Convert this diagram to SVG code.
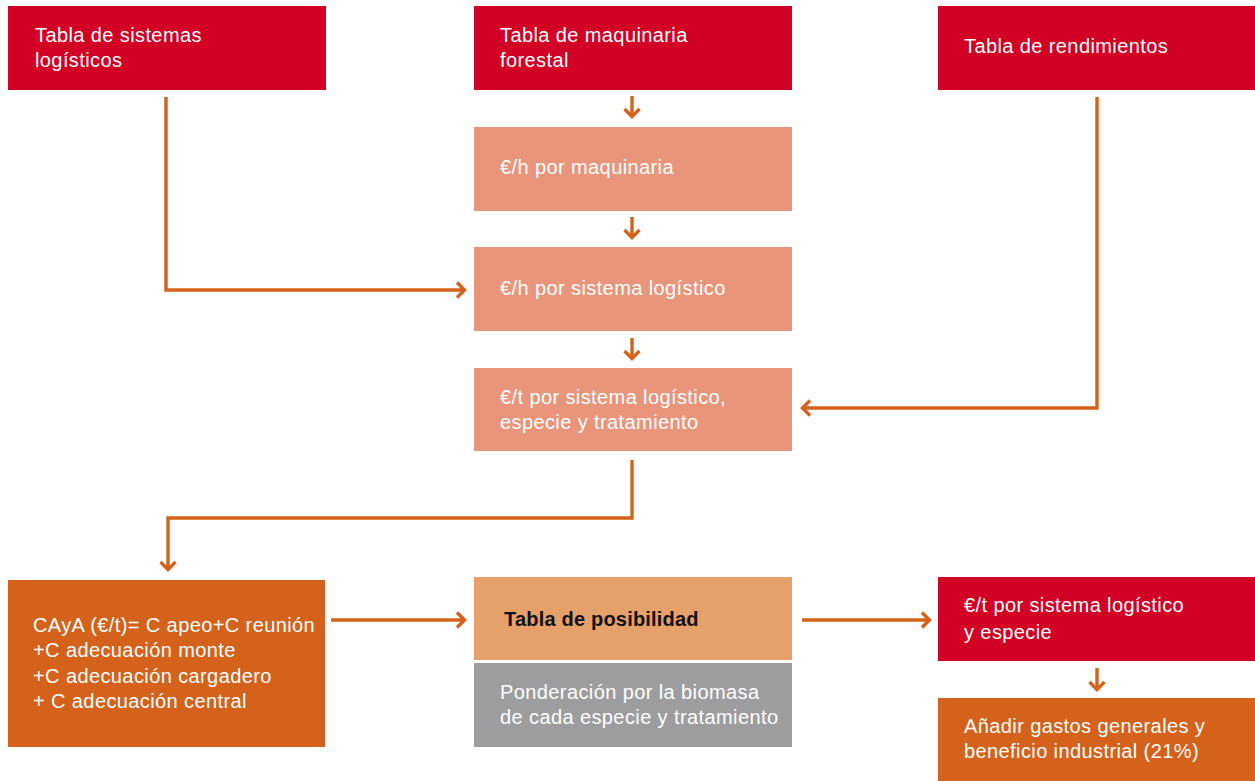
<svg xmlns="http://www.w3.org/2000/svg" width="1255" height="781" viewBox="0 0 1255 781">
  <defs>
    <marker id="chev" viewBox="0 0 12 18" refX="10" refY="9" markerWidth="12" markerHeight="18" markerUnits="userSpaceOnUse" orient="auto">
      <path d="M2,1.5 L9.5,9 L2,16.5" fill="none" stroke="#d4621a" stroke-width="3.4"/>
    </marker>
  </defs>
  <style>
    .red { fill: #d10024; }
    .salmon { fill: #e8957c; }
    .orange { fill: #d4621a; }
    .peach { fill: #e6a06a; }
    .grey { fill: #9d9d9f; }
    text { font-family: "Liberation Sans", Arial, sans-serif; font-size: 20px; letter-spacing: 0.4px; fill: #ffffff; }
    .dark { fill: #111111; font-weight: bold; letter-spacing: 0.2px; }
    .conn { fill: none; stroke: #d4621a; stroke-width: 3.4; marker-end: url(#chev); }
  </style>
  <rect width="1255" height="781" fill="#ffffff"/>

  <g id="sistemas">
    <rect class="red" x="8" y="6" width="318" height="84"/>
    <text x="35" y="42">Tabla de sistemas</text>
    <text x="35" y="67">logísticos</text>
  </g>
  <g id="maquinaria">
    <rect class="red" x="474" y="6" width="318" height="84"/>
    <text x="500" y="42">Tabla de maquinaria</text>
    <text x="500" y="67">forestal</text>
  </g>
  <g id="rendimientos">
    <rect class="red" x="938" y="6" width="317" height="84"/>
    <text x="964" y="53">Tabla de rendimientos</text>
  </g>
  <g id="eur-h-maq">
    <rect class="salmon" x="474" y="127" width="318" height="84"/>
    <text x="500" y="174">€/h por maquinaria</text>
  </g>
  <g id="eur-h-sis">
    <rect class="salmon" x="474" y="247" width="318" height="84"/>
    <text x="500" y="295">€/h por sistema logístico</text>
  </g>
  <g id="eur-t-sis">
    <rect class="salmon" x="474" y="368" width="318" height="83"/>
    <text x="500" y="404">€/t por sistema logístico,</text>
    <text x="500" y="429">especie y tratamiento</text>
  </g>
  <g id="cAyA">
    <rect class="orange" x="8" y="580" width="317" height="167"/>
    <text x="33" y="632">CAyA (€/t)= C apeo+C reunión</text>
    <text x="33" y="657">+C adecuación monte</text>
    <text x="33" y="683">+C adecuación cargadero</text>
    <text x="33" y="708">+ C adecuación central</text>
  </g>
  <g id="posibilidad">
    <rect class="peach" x="474" y="577" width="318" height="83"/>
    <text class="dark" x="504" y="626">Tabla de posibilidad</text>
  </g>
  <g id="ponderacion">
    <rect class="grey" x="474" y="663" width="318" height="84"/>
    <text x="500" y="699">Ponderación por la biomasa</text>
    <text x="500" y="724">de cada especie y tratamiento</text>
  </g>
  <g id="eur-t-especie">
    <rect class="red" x="938" y="577" width="317" height="84"/>
    <text x="964" y="612">€/t por sistema logístico</text>
    <text x="964" y="639">y especie</text>
  </g>
  <g id="gastos">
    <rect class="orange" x="938" y="698" width="317" height="83"/>
    <text x="964" y="733">Añadir gastos generales y</text>
    <text x="964" y="758">beneficio industrial (21%)</text>
  </g>

  <g id="connectors">
    <path class="conn" d="M632,96 V117"/>
    <path class="conn" d="M632,217 V238"/>
    <path class="conn" d="M632,338 V359"/>
    <path class="conn" d="M166,97 V290 H465"/>
    <path class="conn" d="M1097,97 V408 H802"/>
    <path class="conn" d="M632,460 V518 H168 V570"/>
    <path class="conn" d="M331,620 H465"/>
    <path class="conn" d="M802,620 H930"/>
    <path class="conn" d="M1097,668 V690"/>
  </g>
</svg>
